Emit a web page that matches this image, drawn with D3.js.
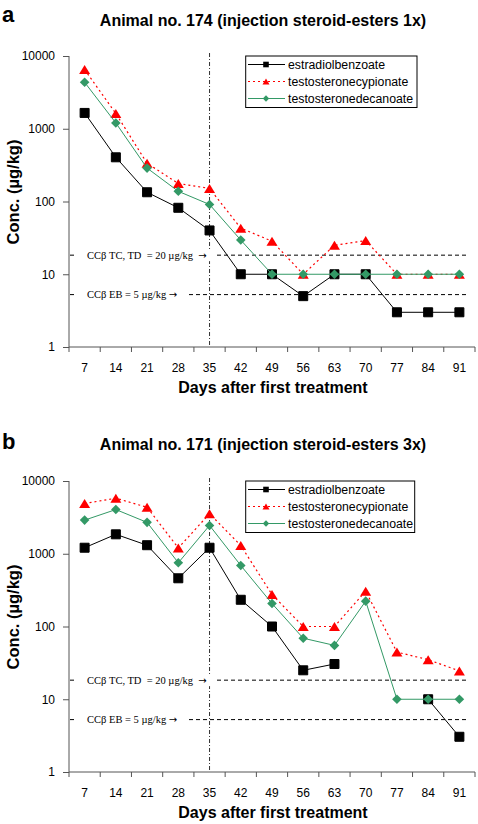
<!DOCTYPE html>
<html><head><meta charset="utf-8">
<script src="https://cdn.jsdelivr.net/npm/d3@7"></script>
<style>body{margin:0;background:#fff}svg{display:block}</style>
</head><body>
<script>
const days = [7,14,21,28,35,42,49,56,63,70,77,84,91];
const yTicks = [1,10,100,1000,10000];
const seriesNames = ["estradiolbenzoate","testosteronecypionate","testosteronedecanoate"];
// Panel a: animal 174
const a_EB = [1650,405,134,82,40,10,10,5,10,10,3,3,3];
const a_TC = [6500,1620,335,177,151,43,28.5,10,25,29,10,10,10];
const a_TD = [4350,1200,288,138,91,29.5,10,10,10,10,10,10,10];
// Panel b: animal 171
const b_EB = [1210,1850,1310,460,1210,233,100,25,30.5,null,null,10,3.05];
const b_TC = [4900,5800,4350,1200,3550,1300,275,100,100,306,44.5,35,24.5];
const b_TD = [2900,4050,2700,752,2450,690,207,69,55,223,10,10,10];
const limitTC = 18.3, limitEB = 5.25;
const limitLabels = ["CCβ TC, TD  = 20 µg/kg  ","CCβ EB = 5 µg/kg "];
const titles = ["Animal no. 174 (injection steroid-esters 1x)","Animal no. 171 (injection steroid-esters 3x)"];
const panelLetters = ["a","b"];

const W=478,H=824;
const svg=d3.select("body").append("svg").attr("width",W).attr("height",H);
const sans="'Liberation Sans', Arial, Helvetica, sans-serif";
const serif="'Liberation Serif', 'Times New Roman', serif";
const colors={EB:"#000",TC:"#ff0000",TD:"#339966"};
const axisCol="#555";

function tri(w,h){return `M0,${-h/2}L${w/2},${h/2}L${-w/2},${h/2}Z`;}
function diamond(s){return `M0,${-s}L${s},0L0,${s}L${-s},0Z`;}
function square(s){return `M${-s},${-s}H${s}V${s}H${-s}Z`;}

function drawPanel(p){
  const g=svg.append("g");
  const x=d3.scaleBand().domain(days).range([69,475]).padding(0);
  const y=d3.scaleLog().domain([1,10000]).range([p.bottom,p.top]);
  const cx=d=>x(d)+x.bandwidth()/2;

  g.append("text").attr("x",2).attr("y",p.letterY).attr("font-family",sans).attr("font-weight","bold")
    .attr("font-size",22).text(p.letter);
  g.append("text").attr("x",263).attr("y",p.titleY).attr("text-anchor","middle").attr("font-family",sans)
    .attr("font-weight","bold").attr("font-size",16).text(p.title);

  // axes
  g.append("line").attr("x1",69).attr("x2",69).attr("y1",p.top).attr("y2",p.bottom).attr("stroke",axisCol);
  g.append("line").attr("x1",69).attr("x2",475).attr("y1",p.bottom).attr("y2",p.bottom).attr("stroke",axisCol);
  const yAxis=d3.axisLeft(y).tickValues(yTicks).tickFormat(d3.format("d")).tickSize(6).tickPadding(8);
  const ya=g.append("g").attr("transform","translate(69,0)").call(yAxis);
  ya.select(".domain").remove();
  ya.selectAll("line").attr("stroke",axisCol);
  ya.selectAll("text").attr("font-family",sans).attr("font-size",12).attr("fill","#000");
  const bounds=days.map(d=>x(d)).concat([475]);
  g.selectAll(".xt").data(bounds).enter().append("line").attr("x1",d=>d).attr("x2",d=>d)
    .attr("y1",p.bottom).attr("y2",p.bottom+5).attr("stroke",axisCol);
  g.selectAll(".xl").data(days).enter().append("text").attr("x",cx).attr("y",p.bottom+25)
    .attr("text-anchor","middle").attr("font-family",sans).attr("font-size",12).text(d=>d);
  g.append("text").attr("x",273).attr("y",p.bottom+46).attr("text-anchor","middle").attr("font-family",sans)
    .attr("font-weight","bold").attr("font-size",16).text("Days after first treatment");
  g.append("text").attr("transform",`translate(19,${p.top+136}) rotate(-90)`).attr("text-anchor","middle")
    .attr("font-family",sans).attr("font-weight","bold").attr("font-size",16.5).text("Conc. (µg/kg)");

  // vertical dash-dot line at day 35
  g.append("line").attr("x1",cx(35)).attr("x2",cx(35)).attr("y1",p.top-3).attr("y2",p.bottom)
    .attr("stroke","#333").attr("stroke-dasharray","4,2,1,2");

  // limit lines
  [[limitTC,limitLabels[0],216],[limitEB,limitLabels[1],187]].forEach(([v,t,x2])=>{
    const yy=y(v);
    g.append("line").attr("x1",70).attr("x2",467).attr("y1",yy).attr("y2",yy).attr("stroke","#000")
      .attr("stroke-dasharray","4,3");
    g.append("rect").attr("x",76).attr("y",yy-6).attr("width",x2-76).attr("height",12).attr("fill","#fff");
    const tx=g.append("text").attr("x",87).attr("y",yy+3.5).attr("font-family",serif).attr("font-size",10.5)
      .style("white-space","pre");
    tx.append("tspan").text(t);
    tx.append("tspan").attr("font-family","'DejaVu Sans', sans-serif").attr("font-size",10).text("→");
  });

  const line=d3.line().defined(d=>d.v!=null).x(d=>cx(d.d)).y(d=>y(d.v));
  const specs=[
    {key:"EB",vals:p.EB,dash:null,w:1,mk:square(4.5)},
    {key:"TC",vals:p.TC,dash:"2,3",w:1.2,mk:tri(11,9)},
    {key:"TD",vals:p.TD,dash:null,w:1,mk:diamond(4.8)}
  ];
  specs.forEach(s=>{
    const pts=days.map((d,i)=>({d,v:s.vals[i]}));
    g.append("path").attr("d",line(pts)).attr("fill","none").attr("stroke",colors[s.key])
      .attr("stroke-width",s.w).attr("stroke-dasharray",s.dash);
    g.selectAll(null).data(pts.filter(q=>q.v!=null)).enter().append("path").attr("d",s.mk)
      .attr("transform",q=>`translate(${cx(q.d)},${y(q.v)})`).attr("fill",colors[s.key])
      .attr("stroke",s.key==="EB"?"#000":"none");
  });

  // legend
  const lx=245.7, ly=p.legTop, lw=p.legW, lh=51.5;
  g.append("rect").attr("x",lx).attr("y",ly).attr("width",lw).attr("height",lh).attr("fill","#fff").attr("stroke","#000");
  const lmk=[square(2.8),tri(7,6),diamond(3.2)];
  specs.forEach((s,i)=>{
    const yy=ly+8.5+i*17;
    g.append("line").attr("x1",248).attr("x2",285).attr("y1",yy).attr("y2",yy).attr("stroke",colors[s.key])
      .attr("stroke-width",s.w).attr("stroke-dasharray",s.dash);
    g.append("path").attr("d",lmk[i]).attr("transform",`translate(266,${yy})`).attr("fill",colors[s.key]);
    g.append("text").attr("x",288).attr("y",yy+4.5).attr("font-family",sans).attr("font-size",12.3).text(seriesNames[i]);
  });
}

drawPanel({letter:panelLetters[0],title:titles[0],letterY:22,titleY:26,top:56,bottom:347,EB:a_EB,TC:a_TC,TD:a_TD,legTop:56,legW:171.3});
drawPanel({letter:panelLetters[1],title:titles[1],letterY:449,titleY:450,top:481,bottom:772,EB:b_EB,TC:b_TC,TD:b_TD,legTop:481,legW:169});
</script>
</body></html>
